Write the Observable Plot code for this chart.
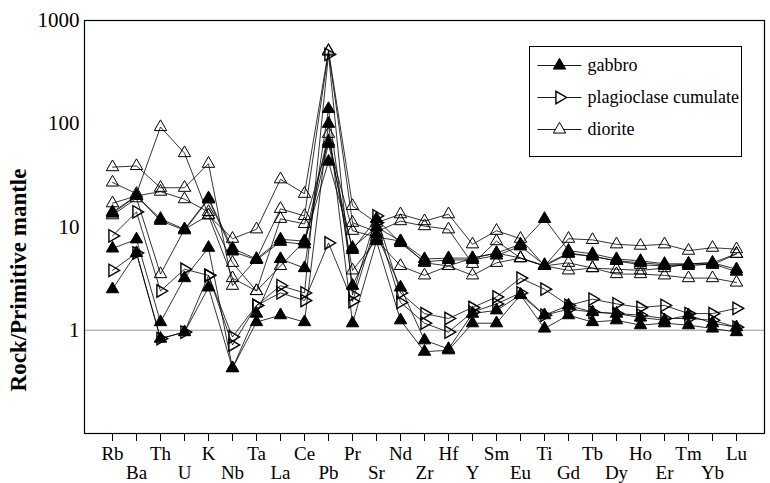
<!DOCTYPE html>
<html><head><meta charset="utf-8">
<script src="https://cdn.jsdelivr.net/npm/d3@7"></script>
<script src="https://cdn.jsdelivr.net/npm/@observablehq/plot@0.6"></script>
<style>
body{margin:0;background:#fff;}
#wrap{position:relative;width:770px;height:483px;}
#wrap > svg.lg{position:absolute;left:528px;top:45px;}
</style></head><body><div id="wrap"></div>
<script>
const elements = ["Rb","Ba","Th","U","K","Nb","Ta","La","Ce","Pb","Pr","Sr","Nd","Zr","Hf","Y","Sm","Eu","Ti","Gd","Tb","Dy","Ho","Er","Tm","Yb","Lu"];
const yTicks = [1, 10, 100, 1000];

// gabbro (filled triangles)
const gabbro1 = [14, 20, 12, 9.5, 19, 6.2, 4.9, 7.6, 7.3, 43, 6.3, 10, 7.3, 4.9, 5.0, 5.0, 5.6, 6.8, 12, 5.9, 5.5, 4.9, 4.7, 4.4, 4.4, 4.5, 3.9];
const gabbro2 = [6.2, 7.6, 1.2, 3.2, 6.3, 0.43, 1.45, 4.9, 4.0, 139, 2.7, 8.5, 2.6, 0.8, 0.66, 1.45, 1.56, 2.2, 1.4, 1.74, 1.5, 1.45, 1.33, 1.25, 1.4, 1.17, 1.07];
const gabbro3 = [2.5, 5.6, 0.83, 0.96, 2.6, 0.43, 1.2, 1.4, 1.2, 100, 1.17, 7.3, 1.25, 0.62, 0.64, 1.17, 1.17, 2.2, 1.04, 1.4, 1.2, 1.25, 1.12, 1.17, 1.12, 1.04, 0.96];
const gabbro4 = [13.5, 20, 11.5, 9.3, 18.5, 5.8, 4.8, 7.2, 6.8, 64, 6.0, 12, 7.0, 4.6, 4.8, 4.8, 5.3, 6.5, 4.3, 5.6, 5.2, 4.7, 4.5, 4.3, 4.2, 4.4, 3.7];

// plagioclase cumulate (open right triangles)
const plag1 = [8.2, 14, 2.4, 3.9, 3.4, 0.86, 1.74, 2.7, 2.3, 470, 2.2, 12.8, 2.3, 1.45, 1.3, 1.66, 2.1, 3.2, 2.5, 1.74, 2.0, 1.8, 1.66, 1.74, 1.45, 1.45, 1.63];
const plag2 = [3.8, 5.6, 0.83, 0.96, 3.4, 0.72, 1.74, 2.3, 1.94, 7.0, 1.9, 11, 1.86, 1.17, 0.96, 1.5, 1.8, 2.3, 1.4, 1.6, 1.5, 1.45, 1.4, 1.3, 1.3, 1.25, 1.07];

// diorite (open up triangles)
const diorite1 = [27, 21, 93, 52, 13, 7.7, 9.5, 29, 21, 510, 16, 11, 13.3, 11.4, 13.3, 6.8, 9.2, 7.7, 4.2, 7.7, 7.5, 6.8, 6.6, 6.8, 5.9, 6.3, 6.1];
const diorite2 = [38, 39, 24, 24, 41, 2.7, 4.9, 15, 12.8, 500, 11, 9, 11.4, 10.2, 9.5, 4.4, 7.3, 5.0, 4.2, 4.5, 4.0, 3.9, 3.8, 4.0, 4.4, 4.3, 5.5];
const diorite3 = [17, 20, 22, 18.6, 14, 4.5, 2.4, 12, 10.7, 67, 9.2, 8, 7.3, 4.5, 4.2, 5.0, 5.6, 5.0, 4.2, 5.5, 5.2, 4.7, 4.3, 4.2, 4.4, 4.5, 5.5];
const diorite4 = [13, 19, 3.5, 9.5, 13, 3.2, 2.4, 4.2, 7.3, 80, 3.8, 7.5, 4.2, 3.4, 4.2, 3.4, 4.5, 5.0, 4.2, 3.8, 4.0, 3.5, 3.5, 3.4, 3.2, 3.2, 2.9];

const groups = ["gabbro", "plagioclase cumulate", "diorite"];
const samples = [
  ["G1","gabbro",gabbro1],["G2","gabbro",gabbro2],["G3","gabbro",gabbro3],["G4","gabbro",gabbro4],
  ["P1","plagioclase cumulate",plag1],["P2","plagioclase cumulate",plag2],
  ["D1","diorite",diorite1],["D2","diorite",diorite2],["D3","diorite",diorite3],["D4","diorite",diorite4]
];
const rows = samples.flatMap(([id, group, vals]) => vals.map((v, i) => ({id, group, el: elements[i], v})));
const evenEls = elements.filter((d, i) => i % 2 === 0);
const oddEls = elements.filter((d, i) => i % 2 === 1);

const font = '"Liberation Serif", "Times New Roman", serif';

const chart = Plot.plot({
  width: 770, height: 483,
  marginTop: 20, marginBottom: 50, marginLeft: 84, marginRight: 6,
  style: {fontFamily: font, fontSize: "19px", background: "white", color: "black"},
  x: {type: "point", domain: elements, padding: 1, axis: null},
  y: {type: "log", domain: [0.1, 1000], axis: null},
  marks: [
    Plot.ruleY([1], {stroke: "#999", strokeWidth: 1.2}),
    Plot.frame({stroke: "black", strokeWidth: 1.2}),
    Plot.axisY(yTicks, {tickSize: 0, tickPadding: 5, tickFormat: d => String(d), fontSize: 21, label: null}),
    Plot.axisX(elements, {tickSize: 8, tickFormat: () => "", label: null, strokeWidth: 1}),
    Plot.axisX(evenEls, {tickSize: 0, tickPadding: 13, label: null, fontSize: 19}),
    Plot.axisX(oddEls, {tickSize: 0, tickPadding: 32, label: null, fontSize: 19}),
    Plot.text(["Rock/Primitive mantle"], {frameAnchor: "left", textAnchor: "middle", rotate: -90, dx: -66, dy: 53, fontWeight: "bold", fontSize: 23}),
    Plot.line(rows, {x: "el", y: "v", z: "id", stroke: "black", strokeWidth: 0.8}),
    Plot.dot(rows.filter(d => d.group === "diorite"), {x: "el", y: "v", symbol: "triangle", r: 4.6, stroke: "black", strokeWidth: 1, fill: "none"}),
    Plot.dot(rows.filter(d => d.group === "plagioclase cumulate"), {x: "el", y: "v", symbol: "triangle", rotate: 90, r: 4.6, stroke: "black", strokeWidth: 1.4, fill: "none"}),
    Plot.dot(rows.filter(d => d.group === "gabbro"), {x: "el", y: "v", symbol: "triangle", r: 4.6, stroke: "black", strokeWidth: 1, fill: "black"})
  ]
});
document.getElementById("wrap").appendChild(chart);

// legend, drawn as a small Plot of its own (x: 0..212 px, y: entry index)
const legendRows = groups.map((g, i) => ({g, i}));
const legend = Plot.plot({
  className: "lg",
  width: 214, height: 112, margin: 1,
  style: {fontFamily: font, fontSize: "18px", background: "white", color: "black", overflow: "visible"},
  x: {type: "linear", domain: [0, 212], axis: null},
  y: {type: "linear", domain: [-0.594, 2.844], axis: null, reverse: true},
  marks: [
    Plot.frame({stroke: "black", strokeWidth: 1}),
    Plot.link(legendRows, {x1: () => 8, x2: () => 52, y1: "i", y2: "i", stroke: "black", strokeWidth: 0.9}),
    Plot.dot(legendRows, {x: () => 30, y: "i", symbol: "triangle", r: 4.6, stroke: "black",
      fill: d => d.g === "gabbro" ? "black" : "white",
      rotate: d => d.g === "plagioclase cumulate" ? 90 : 0,
      strokeWidth: d => d.g === "plagioclase cumulate" ? 1.4 : 1}),
    Plot.text(legendRows, {x: () => 58, y: "i", text: "g", textAnchor: "start", fontSize: 18})
  ]
});
document.getElementById("wrap").appendChild(legend);
</script></body></html>
